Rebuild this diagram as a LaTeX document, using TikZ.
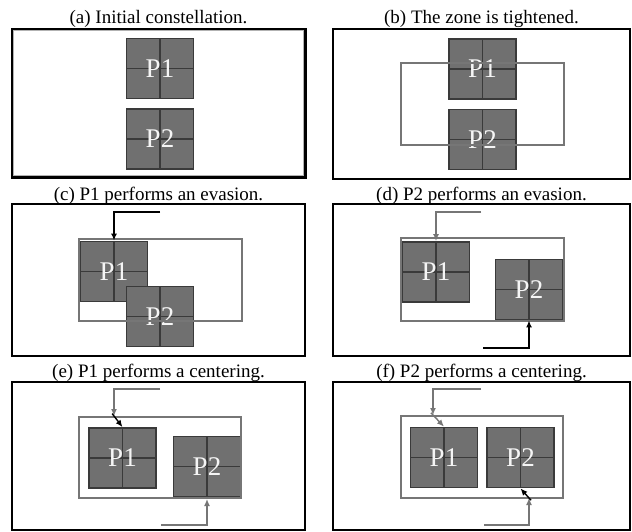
\documentclass[tikz,border=0pt]{standalone}
\usepackage{fontspec}
\setmainfont{Liberation Serif}
\usetikzlibrary{arrows.meta,patterns}
\definecolor{blkfill}{RGB}{112,112,112}
\definecolor{blkedge}{RGB}{58,58,58}
\definecolor{zone}{RGB}{118,118,118}
\begin{document}
\begin{tikzpicture}[x=1pt,y=-1pt,
  caption/.style={anchor=base,font=\fontsize{19}{21}\selectfont,inner sep=0pt},
  frame/.style={draw=black,line width=1.6pt},
  zonebox/.style={draw=zone,line width=1.8pt},
  blk/.style={draw=blkedge,line width=1.8pt,fill=blkfill,inner sep=0pt,
    minimum width=67pt,minimum height=60pt,
    text=white!92!gray,font=\fontsize{27}{27}\selectfont,
    path picture={\draw[blkedge,line width=1.4pt]
      (path picture bounding box.north) -- (path picture bounding box.south)
      (path picture bounding box.west) -- (path picture bounding box.east);}},
  blackarrow/.style={draw=black,line width=1.4pt,-{Latex[length=7pt,width=6pt]}},
  grayarrow/.style={draw=zone,line width=1.4pt,-{Latex[length=7pt,width=6pt]}}
]
\useasboundingbox (0,0) rectangle (632,531);
\fill[white] (0,0) rectangle (632,531);

% (a)
\node[caption] (capa) at (158.5,23.5) {(a) Initial constellation.};
\draw[draw=black,line width=3pt] (12,29) rectangle (305,177);
\draw[draw=gray!60,line width=0.8pt] (13.8,30.8) rectangle (303.2,175.2);
\node[blk] (a1) at (160,68.5) {P1};
\node[blk] (a2) at (160,139) {P2};

% (b)
\node[caption] (capb) at (481.5,23.5) {(b) The zone is tightened.};
\draw[frame] (333,29) rectangle (630,179);
\node[blk] (b1) at (482.5,69) {P1};
\node[blk] (b2) at (482.5,139.5) {P2};
\draw[zonebox] (401,63) rectangle (564,145);

% (c)
\node[caption] (capc) at (158.5,200.5) {(c) P1 performs an evasion.};
\draw[frame] (12,204) rectangle (305,356);
\node[blk] (c1) at (114,271.5) {P1};
\node[blk] (c2) at (160,316.5) {P2};
\draw[zonebox] (79,239) rectangle (242,321);
\coordinate (cs) at (160,212);
\draw[blackarrow] (cs) -| (c1.north);

% (d)
\node[caption] (capd) at (481.5,200.5) {(d) P2 performs an evasion.};
\draw[frame] (333,204) rectangle (630,356);
\node[blk] (d1) at (436,272) {P1};
\node[blk] (d2) at (529,289.5) {P2};
\draw[zonebox] (401,238) rectangle (564,321);
\coordinate (ds) at (481,212);
\coordinate (dt) at (483,348);
\draw[grayarrow] (ds) -| (d1.north);
\draw[blackarrow] (dt) -| (d2.south);

% (e)
\node[caption] (cape) at (158.5,377.5) {(e) P1 performs a centering.};
\draw[frame] (12,382) rectangle (305,530);
\node[blk] (e1) at (122.5,458) {P1};
\node[blk] (e2) at (207,466.5) {P2};
\draw[zonebox] (79,417) rectangle (241,498);
\coordinate (es) at (160,389);
\coordinate (eo) at (114,416);
\coordinate (et) at (161,525);
\coordinate (eb) at (207,499);
\draw[grayarrow] (es) -| (eo);
\draw[blackarrow,shorten <=-3pt] (eo) -- (e1.north);
\draw[grayarrow] (et) -| (eb);

% (f)
\node[caption] (capf) at (481.5,377.5) {(f) P2 performs a centering.};
\draw[frame] (333,382) rectangle (630,530);
\node[blk] (f1) at (444,457.5) {P1};
\node[blk] (f2) at (520.5,457.5) {P2};
\draw[zonebox] (401,416) rectangle (563,498);
\coordinate (fs) at (481,389);
\coordinate (fo) at (433,415);
\coordinate (ft) at (484,525);
\coordinate (fb) at (529,498);
\draw[grayarrow] (fs) -| (fo);
\draw[grayarrow,shorten <=-3pt] (fo) -- (f1.north);
\draw[grayarrow] (ft) -| (fb);
\draw[blackarrow,shorten <=-3pt] (fb) -- (f2.south);
\end{tikzpicture}
\end{document}
